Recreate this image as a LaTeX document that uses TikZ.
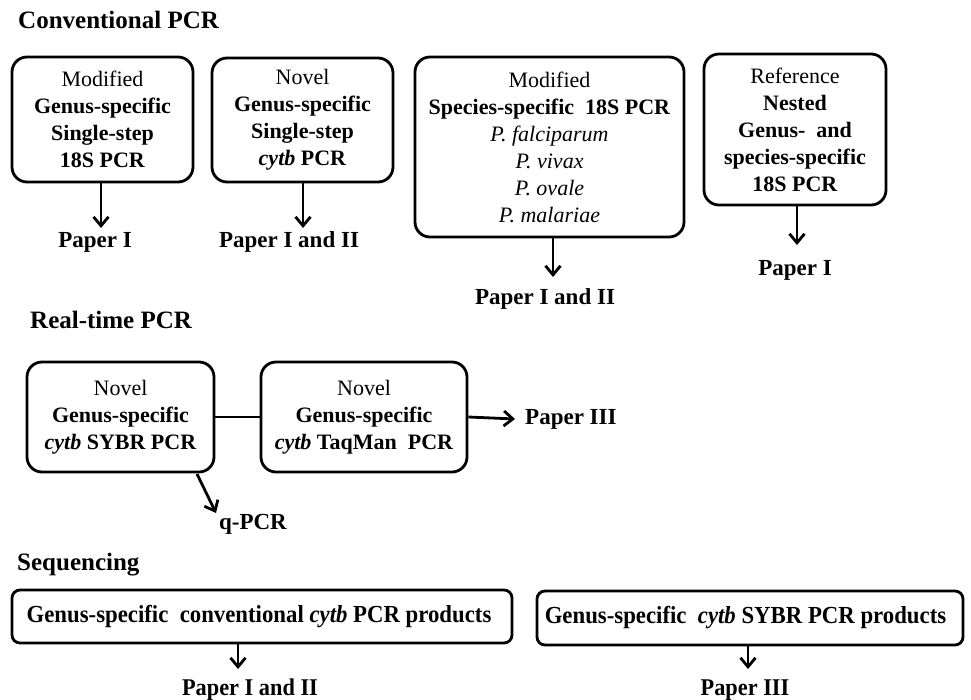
\documentclass[tikz,border=0pt]{standalone}
\usepackage{fontspec}
\setmainfont{Liberation Serif}
\newfontfamily\narrowfont[FakeStretch=0.93]{Liberation Serif}
\usetikzlibrary{arrows.meta}
\begin{document}
\begin{tikzpicture}[x=1pt,y=-1pt,
 box/.style={draw, line width=2.8pt, rounded corners=15pt, align=center, inner sep=0pt, font=\fontsize{22}{27}\selectfont},
 flatbox/.style={draw, line width=2.8pt, rounded corners=8pt, inner sep=0pt, font=\narrowfont\bfseries\fontsize{24.5}{28}\selectfont},
 title/.style={font=\bfseries\fontsize{25}{30}\selectfont, anchor=west, inner sep=0pt},
 lab/.style={font=\bfseries\fontsize{23}{28}\selectfont, inner sep=0pt},
 nlab/.style={font=\narrowfont\bfseries\fontsize{24}{28}\selectfont, inner sep=0pt},
 arr/.style={line width=2.8pt, -{Straight Barb[length=9pt,width=15pt]}},
 ln/.style={line width=2.8pt}
 ]
\useasboundingbox (0,0) rectangle (971,700);

% Conventional PCR
\node[title] (t1) at (18,20) {Conventional PCR};

\node[box, minimum width=181pt, minimum height=125pt] (b1) at (102.5,119.5)
 {Modified\\ \textbf{Genus-specific}\\ \textbf{Single-step}\\ \textbf{18S PCR}};
\node[box, minimum width=181pt, minimum height=124pt] (b2) at (302.5,120)
 {Novel\\ \textbf{Genus-specific}\\ \textbf{Single-step}\\ \textbf{\textit{cytb} PCR}};
\node[box, minimum width=269pt, minimum height=180pt] (b3) at (549.5,147)
 {Modified\\ \textbf{Species-specific\ \ 18S PCR}\\ \textit{P. falciparum}\\ \textit{P. vivax}\\ \textit{P. ovale}\\ \textit{P. malariae}};
\node[box, minimum width=182pt, minimum height=151pt] (b4) at (795,129.5)
 {Reference\\ \textbf{Nested}\\ \textbf{Genus-\ \ and}\\ \textbf{species-specific}\\ \textbf{18S PCR}};

\node[lab] (p1) at (95,242) {Paper I};
\node[lab] (p2) at (289,242) {Paper I and II};
\node[lab] (p3) at (545,299) {Paper I and II};
\node[lab] (p4) at (795,270) {Paper I};

\coordinate (a1) at (101,228);
\coordinate (a2) at (303,228);
\coordinate (a3) at (553,277);
\coordinate (a4) at (797,245);
\draw[arr] (b1.south -| a1) -- (a1);
\draw[arr] (b2.south -| a2) -- (a2);
\draw[arr] (b3.south -| a3) -- (a3);
\draw[arr] (b4.south -| a4) -- (a4);

% Real-time PCR
\node[title] (t2) at (30,320) {Real-time PCR};
\node[box, minimum width=187pt, minimum height=110pt] (b5) at (120.5,417)
 {Novel\\ \textbf{Genus-specific}\\ \textbf{\textit{cytb} SYBR PCR}};
\node[box, minimum width=206pt, minimum height=110pt] (b6) at (364,417)
 {Novel\\ \textbf{Genus-specific}\\ \textbf{\textit{cytb} TaqMan\ \ PCR}};
\draw[ln] (b5.east) -- (b6.west);
\node[lab, anchor=west] (p5) at (525,419) {Paper III};
\draw[arr] (b6.east) -- ([xshift=-10pt]p5.west);
\node[lab] (q) at (253,524) {q-PCR};
\coordinate (qs) at (197,474);
\coordinate (qe) at (216,513);
\draw[arr] (qs) -- (qe);

% Sequencing
\node[title] (t3) at (17,565) {Sequencing};
\node[flatbox, minimum width=500pt, minimum height=53pt] (b7) at (262,616.5)
 {\hspace*{-6pt}Genus-specific\ \ conventional \textit{cytb} PCR products};
\node[flatbox, minimum width=426pt, minimum height=54pt] (b8) at (750,618)
 {\hspace*{-9pt}Genus-specific\ \ \textit{cytb} SYBR PCR products};
\node[nlab] (p7) at (250,690) {Paper I and II};
\node[nlab] (p8) at (745,690) {Paper III};
\coordinate (a7) at (238,669);
\coordinate (a8) at (748,669);
\draw[arr] (b7.south -| a7) -- (a7);
\draw[arr] (b8.south -| a8) -- (a8);
\end{tikzpicture}
\end{document}
